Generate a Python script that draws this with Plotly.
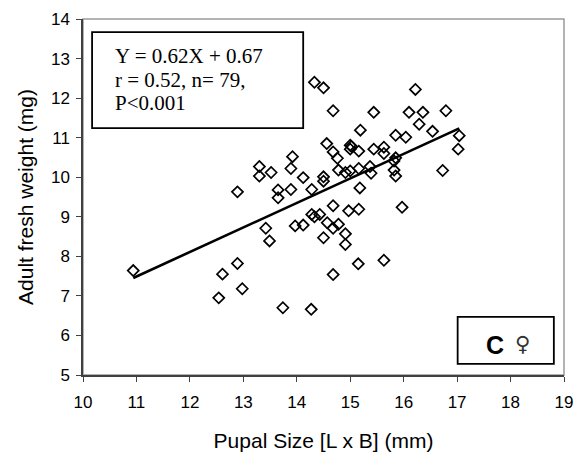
import plotly.graph_objects as go

# Pupal size (mm) and adult fresh weight (mg)
pupal_size = [10.94, 12.89, 13.30, 13.30, 13.52, 13.92, 13.89, 13.65, 13.65, 13.89,
              13.42, 13.49, 13.97, 12.89, 12.61, 12.98, 12.54, 13.74, 14.27,
              14.33, 14.50, 14.68, 16.22, 15.44, 16.10, 16.36, 16.79, 16.29, 15.19,
              16.54, 15.85, 16.04, 17.04, 17.02, 16.73,
              14.56, 14.68, 14.76, 15.00, 15.00, 15.16, 15.44, 15.63, 15.63, 15.85,
              15.82, 15.82, 15.85,
              14.12, 14.50, 14.50, 14.78, 14.91, 15.00, 15.16, 15.37, 15.39,
              14.28, 15.18, 14.68, 14.28, 14.43, 14.12, 14.57, 14.68, 14.78,
              14.91, 14.91, 14.50, 14.97, 15.16, 15.97, 15.15, 15.63, 14.68,
              14.33, 15.02]
adult_weight = [7.64, 9.63, 10.27, 10.03, 10.12, 10.52, 10.22, 9.68, 9.48, 9.69,
                8.71, 8.39, 8.77, 7.82, 7.55, 7.18, 6.95, 6.70, 6.66,
                12.40, 12.26, 11.68, 12.22, 11.64, 11.64, 11.64, 11.68, 11.34, 11.19,
                11.16, 11.06, 11.01, 11.05, 10.71, 10.17,
                10.85, 10.64, 10.48, 10.81, 10.71, 10.66, 10.71, 10.76, 10.60, 10.49,
                10.41, 10.18, 10.03,
                9.99, 10.01, 9.90, 10.18, 10.12, 10.16, 10.22, 10.27, 10.10,
                9.69, 9.73, 9.28, 9.06, 9.06, 8.79, 8.85, 8.71, 8.81,
                8.57, 8.30, 8.47, 9.15, 9.19, 9.24, 7.81, 7.90, 7.54,
                9.00, 10.78]

slope = 0.62
intercept = 0.67
equation_lines = ["Y = 0.62X + 0.67", "r = 0.52, n= 79,", "P<0.001"]
panel_label = "C"
sex_symbol = "\u2640"

x_ticks = list(range(10, 20))
y_ticks = list(range(5, 15))

x_min, x_max = min(pupal_size), max(pupal_size)
fit_x = [x_min, x_max]
fit_y = [slope * v + intercept for v in fit_x]

fig = go.Figure()
fig.add_trace(go.Scatter(
    x=pupal_size, y=adult_weight, mode="markers",
    marker=dict(symbol="diamond-open", size=8.5, color="black",
                line=dict(color="black", width=1.7)),
    showlegend=False, cliponaxis=False))
fig.add_trace(go.Scatter(
    x=fit_x, y=fit_y, mode="lines",
    line=dict(color="black", width=2.6), showlegend=False))

# plot frame (light grey top/right)
fig.add_shape(type="rect", xref="paper", yref="paper", x0=0, x1=1, y0=0, y1=1,
              line=dict(color="#9a9a9a", width=1.5), layer="below")
# equation box
fig.add_shape(type="rect", xref="x", yref="y", x0=10.17, x1=14.12, y0=11.24, y1=13.67,
              line=dict(color="black", width=1.8), fillcolor="white", layer="below")
# panel label box
fig.add_shape(type="rect", xref="x", yref="y", x0=17.01, x1=18.81, y0=5.28, y1=6.47,
              line=dict(color="black", width=1.8), fillcolor="white", layer="below")

eq_y = [13.06, 12.47, 11.87]
for txt, yy in zip(equation_lines, eq_y):
    fig.add_annotation(x=10.56, y=yy, xref="x", yref="y", text=txt, showarrow=False,
                       xanchor="left", yanchor="middle",
                       font=dict(family="Liberation Serif", size=21, color="black"))

fig.add_annotation(x=17.71, y=5.76, xref="x", yref="y", text="<b>" + panel_label + "</b>",
                   showarrow=False, xanchor="center", yanchor="middle",
                   font=dict(family="Liberation Sans", size=25, color="black"))
fig.add_annotation(x=18.23, y=5.78, xref="x", yref="y", text=sex_symbol,
                   showarrow=False, xanchor="center", yanchor="middle",
                   font=dict(family="DejaVu Sans", size=21, color="#333333"))

axis_common = dict(showgrid=False, zeroline=False, showline=True, linecolor="#404040",
                   linewidth=1.5, ticks="outside", ticklen=5, tickwidth=1,
                   tickcolor="#404040", automargin=False,
                   tickfont=dict(family="Liberation Sans", size=17, color="black"))

fig.update_xaxes(range=[10, 19], tickvals=x_ticks, ticktext=[str(v) for v in x_ticks],
                 ticklabelstandoff=6,
                 title=dict(text="Pupal Size [L x B] (mm)", standoff=22,
                            font=dict(family="Liberation Sans", size=21, color="black")),
                 **axis_common)
fig.update_yaxes(range=[5, 14], tickvals=y_ticks, ticktext=[str(v) for v in y_ticks],
                 ticklabelstandoff=3,
                 title=dict(text="Adult fresh weight (mg)", standoff=12,
                            font=dict(family="Liberation Sans", size=21, color="black")),
                 **axis_common)

fig.update_layout(width=584, height=453, margin=dict(l=83, r=20, t=19, b=78),
                  plot_bgcolor="white", paper_bgcolor="white")

fig.write_html("out.html")
